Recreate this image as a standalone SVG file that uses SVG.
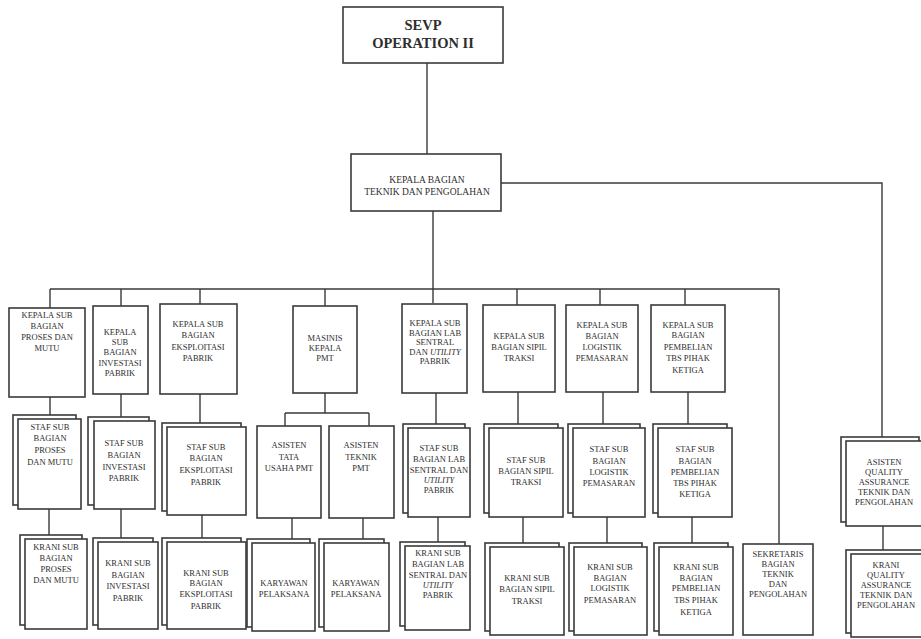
<svg xmlns="http://www.w3.org/2000/svg" width="921" height="639" viewBox="0 0 921 639">
<style>
.box{fill:#fff;stroke:#3a3a3a;stroke-width:1.6}
.ln{fill:none;stroke:#3a3a3a;stroke-width:1.4}
.t{font-family:"Liberation Serif","Times New Roman",serif;font-size:8.5px;fill:#2e2e2e;text-anchor:middle}
.tb{font-family:"Liberation Serif","Times New Roman",serif;font-size:14.5px;font-weight:bold;fill:#2e2e2e;text-anchor:middle}
.tm{font-family:"Liberation Serif","Times New Roman",serif;font-size:9.5px;fill:#2e2e2e;text-anchor:middle}
.i{font-style:italic}
</style>
<rect width="921" height="639" fill="#fff"/>
<g id="connectors" class="ln">
<path d="M427 63V154"/>
<path d="M433 211V303"/>
<path d="M501 183H882V437"/>
<path d="M50 289H779V544"/>
<path d="M50 289V308M121 289V306M200 289V304M325 289V306M517 289V305M600 289V305M685 289V305"/>
<path d="M50 397V415M121 394V417M200 393V423M436 392V424M518 392V424M603 392V424M688 392V424"/>
<path d="M325 393V413M285 413H369M285 413V426M369 413V426"/>
<path d="M49 509V536M121 509V538M202 515V538M438 517V542M523 517V543M607 517V543M692 517V543"/>
<path d="M292 518V539M363 518V539"/>
<path d="M883 526V550"/>
</g>
<g id="sevp"><rect class="box" x="343" y="7" width="160" height="56"/><text class="tb" x="423" y="30">SEVP</text><text class="tb" x="423" y="48">OPERATION II</text></g>
<g id="kabag"><rect class="box" x="351" y="154" width="150" height="57"/><text class="tm" x="427" y="183">KEPALA BAGIAN</text><text class="tm" x="427" y="195">TEKNIK DAN PENGOLAHAN</text></g>

<g id="kasub-proses"><rect class="box" x="9" y="308" width="76" height="89"/><text class="t"><tspan x="47" y="318">KEPALA SUB</tspan><tspan x="47" y="329">BAGIAN</tspan><tspan x="47" y="340">PROSES DAN</tspan><tspan x="47" y="351">MUTU</tspan></text></g>
<g id="kasub-investasi"><rect class="box" x="93" y="306" width="55" height="88"/><text class="t"><tspan x="120" y="335">KEPALA</tspan><tspan x="120" y="345">SUB</tspan><tspan x="120" y="355">BAGIAN</tspan><tspan x="120" y="366">INVESTASI</tspan><tspan x="120" y="376">PABRIK</tspan></text></g>
<g id="kasub-eksploitasi"><rect class="box" x="160" y="304" width="77" height="90"/><text class="t"><tspan x="198" y="327">KEPALA SUB</tspan><tspan x="198" y="338">BAGIAN</tspan><tspan x="198" y="350">EKSPLOITASI</tspan><tspan x="198" y="361">PABRIK</tspan></text></g>
<g id="masinis"><rect class="box" x="293" y="306" width="64" height="87"/><text class="t"><tspan x="325" y="341">MASINIS</tspan><tspan x="325" y="351">KEPALA</tspan><tspan x="325" y="361">PMT</tspan></text></g>
<g id="kasub-lab"><rect class="box" x="402" y="304" width="65" height="89"/><text class="t"><tspan x="435" y="326">KEPALA SUB</tspan><tspan x="435" y="335.5">BAGIAN LAB</tspan><tspan x="435" y="345">SENTRAL</tspan><tspan x="435" y="354.5">DAN <tspan class="i">UTILITY</tspan></tspan><tspan x="435" y="364">PABRIK</tspan></text></g>
<g id="kasub-sipil"><rect class="box" x="483" y="305" width="72" height="87"/><text class="t"><tspan x="519" y="339">KEPALA SUB</tspan><tspan x="519" y="350">BAGIAN SIPIL</tspan><tspan x="519" y="361">TRAKSI</tspan></text></g>
<g id="kasub-logistik"><rect class="box" x="566" y="305" width="72" height="87"/><text class="t"><tspan x="602" y="328">KEPALA SUB</tspan><tspan x="602" y="339">BAGIAN</tspan><tspan x="602" y="350">LOGISTIK</tspan><tspan x="602" y="361">PEMASARAN</tspan></text></g>
<g id="kasub-pembelian"><rect class="box" x="651" y="305" width="74" height="87"/><text class="t"><tspan x="688" y="328">KEPALA SUB</tspan><tspan x="688" y="338">BAGIAN</tspan><tspan x="688" y="350">PEMBELIAN</tspan><tspan x="688" y="361">TBS PIHAK</tspan><tspan x="688" y="373">KETIGA</tspan></text></g>

<g id="staf-proses"><rect class="box" x="13" y="415" width="63" height="90"/><rect class="box" x="18" y="419" width="63" height="90"/><text class="t"><tspan x="50" y="430">STAF SUB</tspan><tspan x="50" y="441">BAGIAN</tspan><tspan x="50" y="453">PROSES</tspan><tspan x="50" y="465">DAN  MUTU</tspan></text></g>
<g id="staf-investasi"><rect class="box" x="88" y="417" width="61" height="88"/><rect class="box" x="94" y="421" width="61" height="88"/><text class="t"><tspan x="124" y="446">STAF SUB</tspan><tspan x="124" y="458">BAGIAN</tspan><tspan x="124" y="470">INVESTASI</tspan><tspan x="124" y="481">PABRIK</tspan></text></g>
<g id="staf-eksploitasi"><rect class="box" x="162" y="423" width="79" height="88"/><rect class="box" x="167" y="427" width="79" height="88"/><text class="t"><tspan x="206" y="450">STAF SUB</tspan><tspan x="206" y="461">BAGIAN</tspan><tspan x="206" y="473">EKSPLOITASI</tspan><tspan x="206" y="485">PABRIK</tspan></text></g>
<g id="asisten-tata"><rect class="box" x="257" y="426" width="64" height="92"/><text class="t"><tspan x="289" y="448">ASISTEN</tspan><tspan x="289" y="460">TATA</tspan><tspan x="289" y="471">USAHA PMT</tspan></text></g>
<g id="asisten-teknik"><rect class="box" x="329" y="426" width="65" height="92"/><text class="t"><tspan x="361" y="448">ASISTEN</tspan><tspan x="361" y="460">TEKNIK</tspan><tspan x="361" y="471">PMT</tspan></text></g>
<g id="staf-lab"><rect class="box" x="403" y="424" width="62" height="89"/><rect class="box" x="408" y="428" width="62" height="89"/><text class="t"><tspan x="439" y="451">STAF SUB</tspan><tspan x="439" y="462">BAGIAN LAB</tspan><tspan x="439" y="473">SENTRAL DAN</tspan><tspan x="439" y="483" class="i">UTILITY</tspan><tspan x="439" y="493">PABRIK</tspan></text></g>
<g id="staf-sipil"><rect class="box" x="484" y="424" width="74" height="89"/><rect class="box" x="489" y="428" width="74" height="89"/><text class="t"><tspan x="526" y="463">STAF SUB</tspan><tspan x="526" y="474">BAGIAN SIPIL</tspan><tspan x="526" y="485">TRAKSI</tspan></text></g>
<g id="staf-logistik"><rect class="box" x="568" y="424" width="72" height="89"/><rect class="box" x="573" y="428" width="72" height="89"/><text class="t"><tspan x="609" y="452">STAF SUB</tspan><tspan x="609" y="464">BAGIAN</tspan><tspan x="609" y="475">LOGISTIK</tspan><tspan x="609" y="486">PEMASARAN</tspan></text></g>
<g id="staf-pembelian"><rect class="box" x="653" y="424" width="74" height="89"/><rect class="box" x="658" y="428" width="74" height="89"/><text class="t"><tspan x="695" y="452">STAF SUB</tspan><tspan x="695" y="464">BAGIAN</tspan><tspan x="695" y="475">PEMBELIAN</tspan><tspan x="695" y="486">TBS PIHAK</tspan><tspan x="695" y="497">KETIGA</tspan></text></g>

<g id="krani-proses"><rect class="box" x="20" y="535" width="62" height="90"/><rect class="box" x="25" y="539" width="62" height="90"/><text class="t"><tspan x="56" y="550">KRANI  SUB</tspan><tspan x="56" y="561">BAGIAN</tspan><tspan x="56" y="572">PROSES</tspan><tspan x="56" y="583">DAN  MUTU</tspan></text></g>
<g id="krani-investasi"><rect class="box" x="93" y="538" width="60" height="87"/><rect class="box" x="98" y="542" width="60" height="87"/><text class="t"><tspan x="128" y="566">KRANI SUB</tspan><tspan x="128" y="578">BAGIAN</tspan><tspan x="128" y="589">INVESTASI</tspan><tspan x="128" y="601">PABRIK</tspan></text></g>
<g id="krani-eksploitasi"><rect class="box" x="162" y="538" width="79" height="87"/><rect class="box" x="167" y="542" width="79" height="87"/><text class="t"><tspan x="206" y="576">KRANI SUB</tspan><tspan x="206" y="586">BAGIAN</tspan><tspan x="206" y="597">EKSPLOITASI</tspan><tspan x="206" y="609">PABRIK</tspan></text></g>
<g id="karyawan-1"><rect class="box" x="247" y="539" width="63" height="88"/><rect class="box" x="252" y="543" width="63" height="88"/><text class="t"><tspan x="284" y="586">KARYAWAN</tspan><tspan x="284" y="597">PELAKSANA</tspan></text></g>
<g id="karyawan-2"><rect class="box" x="319" y="539" width="65" height="88"/><rect class="box" x="324" y="543" width="65" height="88"/><text class="t"><tspan x="356" y="586">KARYAWAN</tspan><tspan x="356" y="597">PELAKSANA</tspan></text></g>
<g id="krani-lab"><rect class="box" x="400" y="542" width="65" height="84"/><rect class="box" x="405" y="546" width="65" height="84"/><text class="t"><tspan x="438" y="556">KRANI SUB</tspan><tspan x="438" y="567">BAGIAN LAB</tspan><tspan x="438" y="578">SENTRAL DAN</tspan><tspan x="438" y="588" class="i">UTILITY</tspan><tspan x="438" y="598">PABRIK</tspan></text></g>
<g id="krani-sipil"><rect class="box" x="485" y="543" width="74" height="88"/><rect class="box" x="490" y="547" width="74" height="88"/><text class="t"><tspan x="527" y="581">KRANI SUB</tspan><tspan x="527" y="592">BAGIAN SIPIL</tspan><tspan x="527" y="604">TRAKSI</tspan></text></g>
<g id="krani-logistik"><rect class="box" x="569" y="543" width="73" height="88"/><rect class="box" x="574" y="547" width="73" height="88"/><text class="t"><tspan x="610" y="570">KRANI SUB</tspan><tspan x="610" y="581">BAGIAN</tspan><tspan x="610" y="591">LOGISTIK</tspan><tspan x="610" y="603">PEMASARAN</tspan></text></g>
<g id="krani-pembelian"><rect class="box" x="654" y="543" width="74" height="88"/><rect class="box" x="659" y="547" width="74" height="88"/><text class="t"><tspan x="696" y="570">KRANI SUB</tspan><tspan x="696" y="581">BAGIAN</tspan><tspan x="696" y="591">PEMBELIAN</tspan><tspan x="696" y="603">TBS PIHAK</tspan><tspan x="696" y="615">KETIGA</tspan></text></g>
<g id="sekretaris"><rect class="box" x="743" y="544" width="70" height="91"/><text class="t"><tspan x="778" y="557">SEKRETARIS</tspan><tspan x="778" y="567">BAGIAN</tspan><tspan x="778" y="577">TEKNIK</tspan><tspan x="778" y="587">DAN</tspan><tspan x="778" y="597">PENGOLAHAN</tspan></text></g>

<g id="asisten-qa"><rect class="box" x="841" y="437" width="78" height="85"/><rect class="box" x="846" y="441" width="78" height="85"/><text class="t"><tspan x="884" y="465">ASISTEN</tspan><tspan x="884" y="475">QUALITY</tspan><tspan x="884" y="485">ASSURANCE</tspan><tspan x="884" y="495">TEKNIK DAN</tspan><tspan x="884" y="505">PENGOLAHAN</tspan></text></g>
<g id="krani-qa"><rect class="box" x="846" y="550" width="78" height="83"/><rect class="box" x="851" y="554" width="78" height="83"/><text class="t"><tspan x="886" y="568">KRANI</tspan><tspan x="886" y="578">QUALITY</tspan><tspan x="886" y="588">ASSURANCE</tspan><tspan x="886" y="598">TEKNIK DAN</tspan><tspan x="886" y="608">PENGOLAHAN</tspan></text></g>
</svg>
